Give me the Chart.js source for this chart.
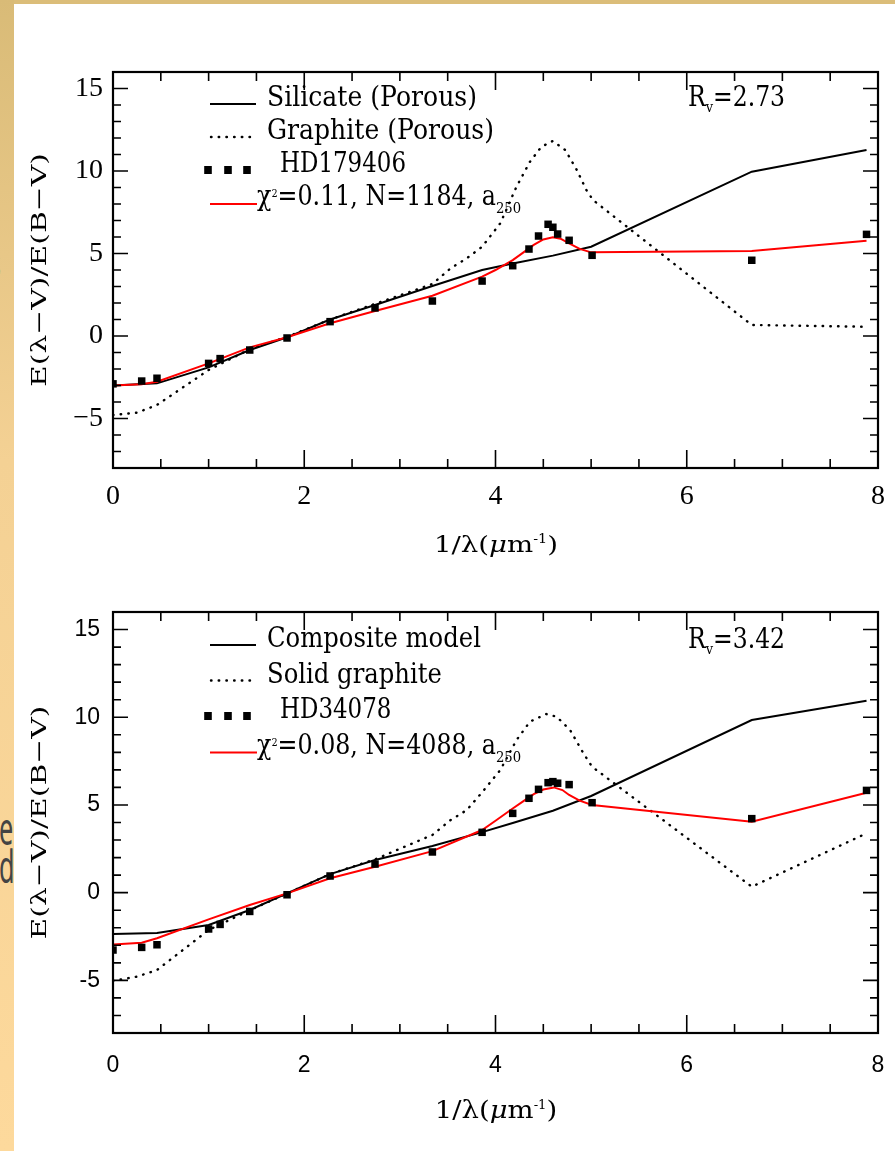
<!DOCTYPE html>
<html>
<head>
<meta charset="utf-8">
<script src="https://cdn.jsdelivr.net/npm/chart.js@4.4.1/dist/chart.umd.min.js"></script>
<style>
  html, body { margin: 0; padding: 0; background: #fff; }
  body { width: 895px; height: 1151px; position: relative; overflow: hidden; }
  .topbar { position: absolute; left: 0; top: 0; width: 895px; height: 4px; background: #dbbd79; }
  .strip { position: absolute; left: 0; top: 0; width: 14px; height: 1151px; overflow: hidden;
           background: linear-gradient(#d9bb77, #f4d194 40%, #fdd99c); }
  .strip span { position: absolute; font-family: "Noto Sans", sans-serif; color: #444; line-height: 1;
                transform: scaleX(0.55); transform-origin: 0 0; }
  canvas { position: absolute; left: 0; }
  #chartA { top: 0; }
  #chartB { top: 580px; }
</style>
</head>
<body>
<div class="topbar"></div>
<div class="strip">
  <span style="left:-8px;top:252px;font-size:28px">S</span>
  <span style="left:-1px;top:804px;font-size:46px">e</span>
  <span style="left:-1px;top:842px;font-size:46px">d</span>
</div>
<canvas id="chartA" width="895" height="580"></canvas>
<canvas id="chartB" width="895" height="571"></canvas>
<script>
// observed colour excesses, 1/lambda in um^-1
const obsX = [0, 0.30, 0.46, 1.00, 1.12, 1.43, 1.82, 2.27, 2.74, 3.34, 3.86, 4.18, 4.35, 4.45, 4.55, 4.60, 4.65, 4.77, 5.01, 6.68, 7.88];
const obsTop = [-2.90, -2.73, -2.56, -1.66, -1.37, -0.85, -0.12, 0.87, 1.70, 2.12, 3.33, 4.26, 5.27, 6.06, 6.77, 6.59, 6.18, 5.80, 4.89, 4.59, 6.16];
const obsBottom = [-3.27, -3.12, -2.97, -2.07, -1.81, -1.07, -0.12, 0.95, 1.63, 2.32, 3.44, 4.52, 5.38, 5.89, 6.27, 6.33, 6.24, 6.16, 5.13, 4.22, 5.83];

// top panel models
const silX = [0, 0.46, 1.00, 1.43, 1.82, 2.27, 2.74, 3.34, 3.86, 4.18, 4.60, 5.00, 6.68, 7.88];
const silY = [-3.00, -2.87, -1.90, -0.85, -0.08, 1.00, 1.88, 3.03, 4.00, 4.40, 4.87, 5.41, 9.96, 11.27];
const graX = [0, 0.25, 0.46, 1.00, 1.43, 1.82, 2.27, 2.74, 3.34, 3.53, 3.70, 3.86, 4.05, 4.22, 4.36, 4.48, 4.60, 4.73, 4.85, 4.95, 5.02, 6.68, 7.88];
const graY = [-4.79, -4.65, -4.18, -2.06, -0.80, -0.05, 1.00, 1.95, 3.15, 4.10, 4.71, 5.41, 6.83, 9.05, 10.56, 11.47, 11.82, 11.27, 10.06, 8.85, 8.24, 0.67, 0.56];
const fitTopX = [0, 0.30, 0.46, 1.00, 1.43, 1.82, 2.27, 2.74, 3.34, 3.86, 4.00, 4.18, 4.30, 4.40, 4.50, 4.60, 4.68, 4.77, 4.88, 5.00, 6.68, 7.88];
const fitTopY = [-3.00, -2.92, -2.77, -1.66, -0.69, -0.08, 0.77, 1.52, 2.44, 3.60, 4.00, 4.60, 5.10, 5.52, 5.85, 5.98, 5.90, 5.62, 5.28, 5.07, 5.15, 5.78];

// bottom panel models
const compX = [0, 0.46, 1.00, 1.43, 1.82, 2.27, 2.74, 3.34, 3.86, 4.18, 4.60, 5.00, 6.68, 7.88];
const compY = [-2.36, -2.30, -1.84, -0.99, -0.04, 1.06, 1.86, 2.66, 3.45, 3.97, 4.67, 5.51, 9.84, 10.94];
const solX = [0, 0.25, 0.46, 1.00, 1.43, 1.82, 2.27, 2.74, 3.34, 3.53, 3.70, 3.85, 4.05, 4.22, 4.36, 4.53, 4.64, 4.78, 4.92, 5.01, 6.68, 7.88];
const solY = [-5.02, -4.79, -4.41, -2.13, -1.00, -0.05, 1.06, 1.90, 3.29, 4.14, 4.71, 5.66, 6.99, 8.70, 9.75, 10.18, 10.03, 9.27, 7.94, 7.18, 0.34, 3.38];
const fitBotX = [0, 0.30, 0.46, 1.00, 1.43, 1.82, 2.27, 2.74, 3.34, 3.86, 4.00, 4.18, 4.30, 4.40, 4.50, 4.61, 4.70, 4.77, 4.88, 5.01, 6.68, 7.88];
const fitBotY = [-2.95, -2.85, -2.60, -1.52, -0.70, -0.04, 0.82, 1.48, 2.37, 3.57, 4.10, 4.80, 5.25, 5.62, 5.88, 6.00, 5.85, 5.57, 5.25, 5.00, 4.04, 5.70];

const xTicks = [0, 2, 4, 6, 8];
const yTicks = [-5, 0, 5, 10, 15];
const yLabelsTop = ['\u22125', '0', '5', '10', '15'];
const yLabelsBottom = ['-5', '0', '5', '10', '15'];

const SERIF = '"DejaVu Serif", "Liberation Serif", serif';

const pts = (xs, ys) => xs.map((x, i) => ({ x: x, y: ys[i] }));

// text squeezed or stretched along its own direction
function putText(ctx, str, x, y, size, sx, style) {
  ctx.save();
  ctx.translate(x, y);
  ctx.scale(sx, 1);
  ctx.font = (style || '') + ' ' + size + 'px ' + SERIF;
  ctx.fillText(str, 0, 0);
  const w = ctx.measureText(str).width * sx;
  ctx.restore();
  return w;
}

function partSize(part, size) {
  if (part.kind) return part.size;
  return size;
}

function richWidth(ctx, parts, size, sx) {
  let w = 0;
  parts.forEach(p => {
    ctx.font = (p.style || '') + ' ' + partSize(p, size) + 'px ' + SERIF;
    w += ctx.measureText(p.t).width * sx;
  });
  return w;
}

function richText(ctx, parts, x, y, size, sx) {
  let cx = x;
  parts.forEach(p => {
    let dy = 0;
    if (p.kind === 'sup') dy = -p.shift;
    if (p.kind === 'sub') dy = p.shift;
    cx += putText(ctx, p.t, cx, y + dy, partSize(p, size), sx, p.style);
  });
  return cx - x;
}

function framePlugin(p) {
  return {
    id: 'frame',
    afterDraw(chart) {
      const ctx = chart.ctx;
      const a = chart.chartArea;
      const sx = chart.scales.x;
      const sy = chart.scales.y;
      ctx.save();
      ctx.strokeStyle = '#000';
      ctx.fillStyle = '#000';
      ctx.lineWidth = 1.6;
      ctx.beginPath();
      for (let v = 0.5; v < 8; v += 0.5) {
        const px = sx.getPixelForValue(v);
        const len = v % 2 === 0 ? p.tick.xMaj : p.tick.xMin;
        ctx.moveTo(px, a.bottom); ctx.lineTo(px, a.bottom - len);
        ctx.moveTo(px, a.top); ctx.lineTo(px, a.top + len);
      }
      for (let v = -7; v < 16; v += 1) {
        const py = sy.getPixelForValue(v);
        const len = v % 5 === 0 ? p.tick.yMaj : p.tick.yMin;
        ctx.moveTo(a.left, py); ctx.lineTo(a.left + len, py);
        ctx.moveTo(a.right, py); ctx.lineTo(a.right - len, py);
      }
      ctx.stroke();
      ctx.lineWidth = 2.2;
      ctx.strokeRect(a.left, a.top, a.right - a.left, a.bottom - a.top);

      // legend
      const lx = a.left + 97;
      const rows = p.legend;
      const base = i => a.top + p.legFirst + i * p.legGap;
      ctx.lineWidth = 2;
      ctx.beginPath();
      ctx.moveTo(lx, base(0) - 2); ctx.lineTo(lx + 46, base(0) - 2);
      ctx.stroke();
      ctx.save();
      ctx.lineWidth = 2.4;
      ctx.lineCap = 'round';
      ctx.setLineDash([0.5, 7.2]);
      ctx.beginPath();
      ctx.moveTo(lx + 1, base(1) - 2); ctx.lineTo(lx + 43, base(1) - 2);
      ctx.stroke();
      ctx.restore();
      [-2, 18, 37].forEach(dx => ctx.fillRect(lx + dx - 3.8, base(2) - 6, 7.6, 8));
      ctx.strokeStyle = '#ff0000';
      ctx.beginPath();
      ctx.moveTo(lx, base(3) - 1); ctx.lineTo(lx + 47, base(3) - 1);
      ctx.stroke();

      putText(ctx, rows[0], lx + 57, base(0), 27, p.legSx);
      putText(ctx, rows[1], lx + 57, base(1), 27, p.legSx);
      putText(ctx, rows[2], lx + 70, base(2), 27, 0.85);
      richText(ctx, p.fitText, lx + 47, base(3), 27, 0.88);

      // R_v annotation
      richText(ctx, p.rv, a.left + p.rvLeft, a.top + p.rvBase, 27, 0.87);

      // x title
      const xw = richWidth(ctx, p.xTitle, p.xTitleSize, p.xTitleSx);
      richText(ctx, p.xTitle, 496 - xw / 2, a.bottom + p.xTitleBase, p.xTitleSize, p.xTitleSx);

      // y title
      ctx.save();
      ctx.translate(41, (a.top + a.bottom) / 2);
      ctx.rotate(-Math.PI / 2);
      ctx.scale(1.42, 1);
      ctx.textAlign = 'center';
      ctx.textBaseline = 'middle';
      ctx.font = '21px ' + SERIF;
      ctx.fillText('E(\u03bb\u2212V)/E(B\u2212V)', 0, 0);
      ctx.restore();

      ctx.restore();
    }
  };
}

function makeChart(id, p) {
  return new Chart(document.getElementById(id), {
    type: 'scatter',
    data: {
      datasets: [
        { label: p.legend[2], data: pts(obsX, p.obs), pointStyle: 'rect', pointRadius: 5.3,
          pointBackgroundColor: '#000', pointBorderWidth: 0, order: 0 },
        { label: 'fit', data: pts(p.fitX, p.fitY), showLine: true, borderColor: '#ff0000',
          borderWidth: 2, pointRadius: 0, order: 1 },
        { label: p.legend[0], data: pts(p.solidX, p.solidY), showLine: true, borderColor: '#000',
          borderWidth: 2, pointRadius: 0, order: 2 },
        { label: p.legend[1], data: pts(p.dotX, p.dotY), showLine: true, borderColor: '#000',
          borderWidth: 2.4, borderDash: [0.5, 7.2], borderCapStyle: 'round', pointRadius: 0, order: 3 }
      ]
    },
    options: {
      responsive: false,
      animation: false,
      events: [],
      layout: { padding: { top: p.top, right: 17, left: 0, bottom: 0 } },
      plugins: { legend: { display: false }, tooltip: { enabled: false } },
      scales: {
        x: {
          type: 'linear', min: 0, max: 8,
          grid: { display: false, drawTicks: false },
          border: { display: false },
          afterBuildTicks: s => { s.ticks = xTicks.map(v => ({ value: v })); },
          afterFit: s => { s.height = p.xh; },
          // labels pushed down through the line height so they do not eat into the right margin
          ticks: { color: '#000', padding: 0, font: p.xTickFont, maxRotation: 0, autoSkip: false }
        },
        y: {
          type: 'linear', min: -8, max: 16,
          grid: { display: false, drawTicks: false },
          border: { display: false },
          afterBuildTicks: s => { s.ticks = yTicks.map(v => ({ value: v })); },
          afterFit: s => { s.width = 113; },
          ticks: { color: '#000', padding: p.ypad, font: p.yTickFont, autoSkip: false,
                   callback: (v, i) => p.yLabels[i] }
        }
      }
    },
    plugins: [framePlugin(p)]
  });
}

const xTitleParts = [
  { t: '1/\u03bb(' },
  { t: '\u03bc', style: 'italic' },
  { t: 'm' },
  { t: '-1', kind: 'sup', size: 12, shift: 9 },
  { t: ')' }
];

const serifTicks = '"Liberation Serif", serif';
const narrowTicks = '"Liberation Sans Narrow", "Liberation Sans", sans-serif';

makeChart('chartA', {
  obs: obsTop, fitX: fitTopX, fitY: fitTopY, solidX: silX, solidY: silY, dotX: graX, dotY: graY,
  top: 72, xh: 112, ypad: 10,
  xTickFont: { family: serifTicks, size: 28, lineHeight: '58px' },
  yTickFont: { family: serifTicks, size: 28 },
  yLabels: yLabelsTop,
  tick: { xMaj: 18, xMin: 9, yMaj: 15, yMin: 8 },
  legend: ['Silicate (Porous)', 'Graphite (Porous)', 'HD179406'],
  legSx: 0.93,
  fitText: [{ t: '\u03c7' }, { t: '2', kind: 'sup', size: 11, shift: 8 }, { t: '=0.11, N=1184, a' }, { t: '250', kind: 'sub', size: 15, shift: 8 }],
  legFirst: 34, legGap: 33,
  rv: [{ t: 'R' }, { t: 'v', kind: 'sub', size: 15, shift: 6 }, { t: '=2.73' }],
  rvLeft: 575, rvBase: 34,
  xTitle: xTitleParts, xTitleSize: 23, xTitleSx: 1.2, xTitleBase: 84
});

makeChart('chartB', {
  obs: obsBottom, fitX: fitBotX, fitY: fitBotY, solidX: compX, solidY: compY, dotX: solX, dotY: solY,
  top: 32, xh: 118, ypad: 13,
  xTickFont: { family: narrowTicks, size: 23, lineHeight: '66px' },
  yTickFont: { family: narrowTicks, size: 23 },
  yLabels: yLabelsBottom,
  tick: { xMaj: 18, xMin: 9, yMaj: 15, yMin: 8 },
  legend: ['Composite model', 'Solid graphite', 'HD34078'],
  legSx: 0.9,
  fitText: [{ t: '\u03c7' }, { t: '2', kind: 'sup', size: 11, shift: 8 }, { t: '=0.08, N=4088, a' }, { t: '250', kind: 'sub', size: 15, shift: 8 }],
  legFirst: 35, legGap: 35.5,
  rv: [{ t: 'R' }, { t: 'v', kind: 'sub', size: 15, shift: 6 }, { t: '=3.42' }],
  rvLeft: 575, rvBase: 36,
  xTitle: xTitleParts, xTitleSize: 25, xTitleSx: 1.1, xTitleBase: 85
});
</script>
</body>
</html>
